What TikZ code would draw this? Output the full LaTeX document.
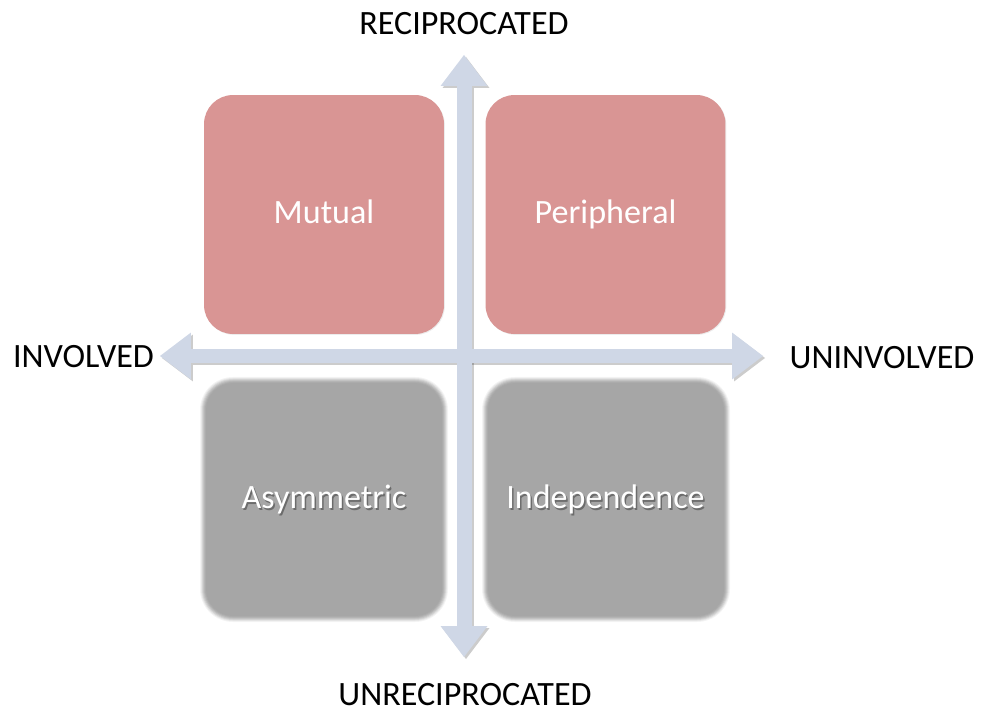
\documentclass[tikz,border=0pt]{standalone}
\usepackage{fontspec}
\setmainfont{Carlito}
\usetikzlibrary{arrows.meta,shadows}

\definecolor{boxred}{HTML}{D99594}
\definecolor{boxgrey}{HTML}{A6A6A6}
\definecolor{axisblue}{HTML}{CFD7E6}

\begin{document}
\begin{tikzpicture}[x=0.02cm,y=-0.02cm,
    axis/.style={line width=0.3cm,axisblue,
      arrows={Triangle[width=0.94cm,length=0.62cm,line width=0pt]-Triangle[width=0.94cm,length=0.62cm,line width=0pt]}},
    axis shadow/.style={axis,black,opacity=0.2,transform canvas={xshift=0.04cm,yshift=-0.04cm}},
    quad/.style={minimum width=4.8cm,minimum height=4.78cm,rounded corners=0.58cm,
      text=white,text height=1.2em,text depth=0.2em,font=\fontsize{19.4}{23}\selectfont},
    label/.style={font=\fontsize{19.4}{23}\selectfont,inner sep=0pt}]
  \useasboundingbox (0,0) rectangle (982,715);

  % upper row, sharp
  \node[quad,fill=boxred,drop shadow={opacity=0.15,shadow xshift=0.5pt,shadow yshift=-0.5pt}] (mutual) at (324,214.5) {Mutual};
  \node[quad,fill=boxred,drop shadow={opacity=0.15,shadow xshift=0.5pt,shadow yshift=-0.5pt}] (periph) at (605.5,214.5) {Peripheral};

  % lower row, soft edges
  \foreach \bx in {204,486}
    \foreach \d/\c in {4/12,3/28,2/48,1/66,0/82,-1/93,-2/100}
      \fill[boxgrey!\c!white,rounded corners={0.02cm*(29+\d)}]
        (\bx-\d,381-\d) rectangle (\bx+240+\d,618+\d);
  \node[quad,text=black,opacity=0.35] (asym shade) at (325.5,501.5) {Asymmetric};
  \node[quad,text=black,opacity=0.35] (indep shade) at (607,501.5) {Independence};
  \node[quad] (asym) at (324,499.5) {Asymmetric};
  \node[quad] (indep) at (605.5,499.5) {Independence};

  % axes
  \coordinate (w) at (160,356);
  \coordinate (e) at (763,356);
  \coordinate (n) at (464,55);
  \coordinate (s) at (464,657);
  \draw[axis shadow] (w) -- (e);
  \draw[axis shadow] (n) -- (s);
  \draw[axis] (w) -- (e);
  \draw[axis] (n) -- (s);

  \node[label] (recip) at (464,24) {RECIPROCATED};
  \node[label] (unrecip) at (465,695) {UNRECIPROCATED};
  \node[label] (involved) at (83.5,357) {INVOLVED};
  \node[label] (uninvolved) at (882,358) {UNINVOLVED};
\end{tikzpicture}
\end{document}
